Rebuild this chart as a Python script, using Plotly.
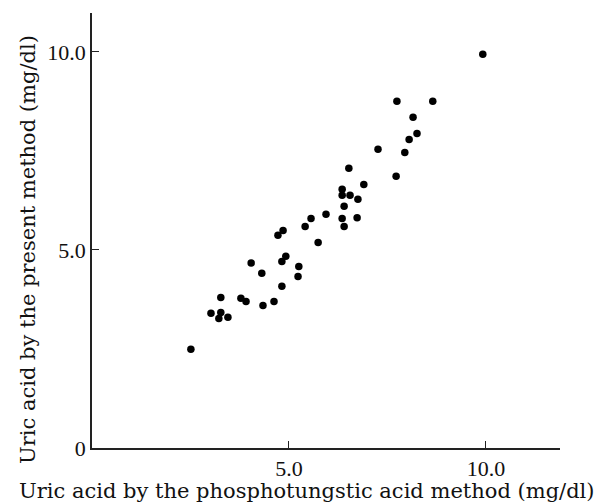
import plotly.graph_objects as go

# Data (mg/dl)
phosphotungstic = [2.51, 3.02, 3.27, 3.22, 3.45, 3.27, 3.78, 3.91, 4.34, 4.62,
                   4.82, 4.31, 4.04, 4.92, 4.82, 5.25, 5.23, 4.85, 4.72, 5.74,
                   5.41, 5.56, 5.94, 6.35, 6.73, 6.40, 6.40, 6.75, 6.35, 6.35,
                   6.55, 6.90, 6.52, 7.72, 7.26, 7.94, 8.05, 8.25, 8.15, 7.74,
                   8.65, 9.92]
present_method = [2.49, 3.40, 3.42, 3.27, 3.30, 3.80, 3.78, 3.70, 3.60, 3.70,
                  4.08, 4.41, 4.67, 4.84, 4.71, 4.58, 4.33, 5.49, 5.37, 5.19,
                  5.59, 5.79, 5.90, 5.79, 5.81, 5.59, 6.10, 6.28, 6.53, 6.38,
                  6.38, 6.65, 7.06, 6.86, 7.54, 7.46, 7.79, 7.94, 8.35, 8.75,
                  8.75, 9.94]

x_tick_vals = [5.0, 10.0]
x_tick_text = ["5.0", "10.0"]
y_tick_vals = [0, 5.0, 10.0]
y_tick_text = ["0", "5.0", "10.0"]

x_title = "Uric acid by the phosphotungstic acid method (mg/dl)"
y_title = "Uric acid by the present method (mg/dl)"

TICKFONT = "Liberation Serif"
TITLEFONT = "DejaVu Serif"

fig = go.Figure()
fig.add_trace(go.Scatter(
    x=phosphotungstic, y=present_method, mode="markers",
    marker=dict(size=7.5, color="black", line=dict(width=0)),
    showlegend=False, hoverinfo="skip"))

axis_common = dict(
    showline=True, linecolor="#222", linewidth=1.5, mirror=False,
    showgrid=False, zeroline=False,
    ticks="inside", ticklen=7, tickwidth=1.2, tickcolor="#222",
    tickfont=dict(family=TICKFONT, size=22, color="#111"),
)

fig.update_layout(
    width=613, height=504,
    margin=dict(l=92, r=53, t=13, b=56, pad=0),
    paper_bgcolor="white", plot_bgcolor="white",
    xaxis=dict(range=[0, 11.88], tickmode="array", tickvals=x_tick_vals,
               ticktext=x_tick_text, **axis_common),
    yaxis=dict(range=[0, 10.98], tickmode="array", tickvals=y_tick_vals,
               ticktext=y_tick_text, **axis_common),
    annotations=[
        dict(text=x_title, xref="paper", yref="paper",
             x=(307 - 92) / 468, y=(448 - 491) / 435,
             xanchor="center", yanchor="middle", showarrow=False,
             font=dict(family=TITLEFONT, size=21, color="#111")),
        dict(text=y_title, xref="paper", yref="paper",
             x=(28 - 92) / 468, y=(448 - 250) / 435, textangle=-90,
             xanchor="center", yanchor="middle", showarrow=False,
             font=dict(family=TITLEFONT, size=21, color="#111")),
    ],
)

fig.write_html("out.html")
